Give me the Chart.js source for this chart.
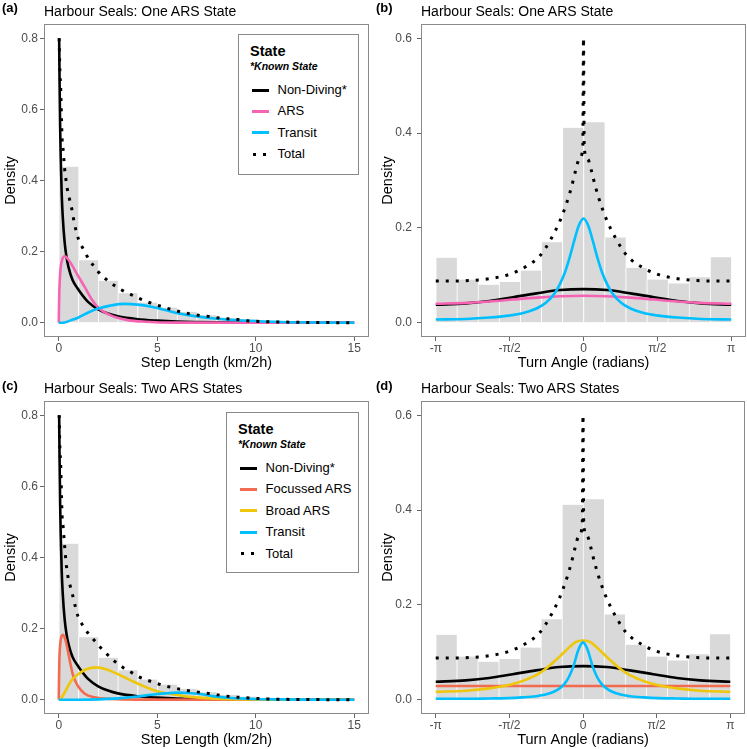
<!DOCTYPE html>
<html>
<head>
<meta charset="utf-8">
<title>Harbour Seals: state densities</title>
<script src="https://cdn.jsdelivr.net/npm/chart.js@4.4.1/dist/chart.umd.min.js"></script>
<style>
  body { margin: 0; background: #fff; font-family: "Liberation Sans", Arial, sans-serif; }
  #wrap { position: relative; width: 747px; height: 749px; overflow: hidden; }
  canvas { position: absolute; }
  .tag { position: absolute; font-weight: bold; font-size: 13px; line-height: 14px; }
  .ttl { position: absolute; font-size: 14px; line-height: 16px; white-space: nowrap; }
  .legend { position: absolute; border: 1px solid #8a8a8a; background: #fff; box-sizing: border-box; }
  .legend div { position: absolute; white-space: nowrap; }
  .lg-title { font-weight: bold; font-size: 14.5px; line-height: 16px; }
  .lg-sub { font-weight: bold; font-style: italic; font-size: 10.5px; line-height: 12px; }
  .lg-text { font-size: 13px; line-height: 16px; }
</style>
</head>
<body>
<div id="wrap"></div>
<script>
// ---- histogram data ----
const stepBins = [0.5, 1.5, 2.5, 3.5, 4.5, 5.5, 6.5, 7.5, 8.5, 9.5, 10.5, 11.5, 12.5, 13.5, 14.5];
const stepHist = [0.439, 0.176, 0.118, 0.083, 0.057, 0.043, 0.031, 0.021, 0.014, 0.009, 0.006, 0.004, 0.003, 0.002, 0.001];
const angleBins = [-2.9172, -2.4684, -2.0196, -1.5708, -1.1220, -0.6732, -0.2244, 0.2244, 0.6732, 1.1220, 1.5708, 2.0196, 2.4684, 2.9172];
const angleHist = [0.137, 0.091, 0.080, 0.086, 0.110, 0.170, 0.411, 0.423, 0.180, 0.116, 0.091, 0.083, 0.096, 0.138];

// ---- tick labels ----
const stepTicks = [0, 5, 10, 15];
const angleTicks = [-Math.PI, -Math.PI / 2, 0, Math.PI / 2, Math.PI];
const angleTickLabels = ['-π', '-π/2', '0', 'π/2', 'π'];
const stepDensityTicks = [0, 0.2, 0.4, 0.6, 0.8];
const angleDensityTicks = [0, 0.2, 0.4, 0.6];

// ---- step length curves [x, density] ----
const stepNonDiving = [[0.02,0.8],[0.04,0.68],[0.07,0.55],[0.1,0.46],[0.15,0.36],[0.2,0.3],[0.3,0.225],[0.4,0.182],[0.5,0.155],[0.7,0.12],[1,0.093],[1.5,0.058],[2,0.038],[2.5,0.026],[3,0.018],[4,0.01],[5,0.006],[6,0.0035],[8,0.0013],[10,0.0005],[15,0]];
const stepARS1 = [[0,0],[0.01,0.04],[0.03,0.09],[0.08,0.146],[0.17,0.177],[0.3,0.187],[0.45,0.18],[0.64,0.165],[0.98,0.132],[1.32,0.1],[1.66,0.067],[2,0.043],[2.67,0.02],[3.5,0.0075],[4.4,0.003],[6,0.0005],[15,0]];
const stepTransit1 = [[0,0],[0.3,0.001],[0.64,0.0075],[1,0.015],[1.5,0.029],[2,0.04],[2.67,0.049],[3.35,0.053],[4,0.051],[4.7,0.045],[5.4,0.036],[6.1,0.026],[7,0.018],[7.9,0.012],[9.6,0.0056],[11.3,0.002],[13,0.0006],[15,0]];
const stepTotal1 = [[0.02,0.8],[0.05,0.72],[0.1,0.655],[0.14,0.572],[0.17,0.515],[0.22,0.487],[0.3,0.431],[0.37,0.4],[0.44,0.374],[0.56,0.344],[0.68,0.315],[0.76,0.289],[0.86,0.263],[1.01,0.234],[1.22,0.21],[1.45,0.186],[1.74,0.162],[2.04,0.141],[2.41,0.122],[2.79,0.106],[3.17,0.093],[3.6,0.081],[4.02,0.07],[4.44,0.06],[4.87,0.052],[5.37,0.043],[5.8,0.036],[6.22,0.03],[6.65,0.025],[7.1,0.021],[7.6,0.018],[8.05,0.014],[8.56,0.011],[9.06,0.009],[9.56,0.0058],[10.5,0.003],[11.5,0.0019],[13,0.0008],[15,0]];
const stepFocussed = [[0,0],[0.01,0.05],[0.03,0.11],[0.08,0.16],[0.15,0.18],[0.22,0.183],[0.3,0.175],[0.39,0.157],[0.56,0.11],[0.73,0.068],[0.98,0.038],[1.32,0.017],[1.82,0.007],[2.67,0.002],[4,0.0003],[15,0]];
const stepBroad = [[0,0],[0.1,0.002],[0.3,0.021],[0.64,0.054],[0.98,0.072],[1.4,0.086],[1.91,0.091],[2.41,0.086],[3,0.072],[3.68,0.054],[4.36,0.037],[5.03,0.023],[5.71,0.016],[6.4,0.01],[7.1,0.006],[8,0.003],[10,0.0008],[15,0]];
const stepTransit2 = [[0,0],[1,0.0002],[2,0.0012],[3,0.004],[4,0.009],[4.7,0.014],[5.4,0.018],[6,0.02],[6.6,0.019],[7.2,0.016],[7.9,0.0095],[8.6,0.0055],[9.6,0.003],[11.2,0.001],[13,0.0003],[15,0]];
const stepTotal2 = [[0.02,0.8],[0.05,0.72],[0.1,0.655],[0.14,0.572],[0.17,0.515],[0.22,0.487],[0.3,0.431],[0.39,0.375],[0.47,0.345],[0.59,0.318],[0.73,0.288],[0.85,0.26],[0.98,0.234],[1.23,0.208],[1.49,0.187],[1.79,0.168],[2.13,0.146],[2.47,0.127],[2.84,0.108],[3.26,0.091],[3.65,0.078],[4.05,0.065],[4.5,0.055],[4.92,0.047],[5.34,0.04],[5.7,0.035],[6.22,0.029],[6.74,0.024],[7.2,0.021],[7.7,0.017],[8.17,0.013],[8.63,0.0095],[9.13,0.007],[9.64,0.005],[10.1,0.0035],[10.6,0.0025],[11.1,0.0016],[12.5,0.0007],[15,0]];

// ---- turn angle curves [radians, density] ----
const angleNonDiving = [[-3.1416,0.038],[-2.5,0.041],[-2,0.046],[-1.5,0.054],[-1,0.062],[-0.5,0.069],[0,0.071],[0.5,0.069],[1,0.062],[1.5,0.054],[2,0.046],[2.5,0.041],[3.1416,0.038]];
const angleARS1 = [[-3.1416,0.04],[-2.5,0.042],[-2,0.045],[-1.5,0.049],[-1,0.053],[-0.5,0.056],[0,0.057],[0.5,0.056],[1,0.053],[1.5,0.049],[2,0.045],[2.5,0.042],[3.1416,0.04]];
const angleTransit1 = [[-3.1416,0.007],[-2.5,0.008],[-2,0.011],[-1.6,0.015],[-1.3,0.02],[-1,0.03],[-0.8,0.042],[-0.6,0.064],[-0.5,0.082],[-0.4,0.105],[-0.3,0.136],[-0.2,0.172],[-0.1,0.205],[0,0.22],[0.1,0.205],[0.2,0.172],[0.3,0.136],[0.4,0.105],[0.5,0.082],[0.6,0.064],[0.8,0.042],[1,0.03],[1.3,0.02],[1.6,0.015],[2,0.011],[2.5,0.008],[3.1416,0.007]];
const angleFocussed = [[-3.1416,0.029],[3.1416,0.029]];
const angleBroad = [[-3.1416,0.017],[-2.5,0.019],[-2,0.024],[-1.5,0.033],[-1,0.052],[-0.8,0.065],[-0.5,0.091],[-0.3,0.11],[-0.15,0.122],[0,0.125],[0.15,0.122],[0.3,0.11],[0.5,0.091],[0.8,0.065],[1,0.052],[1.5,0.033],[2,0.024],[2.5,0.019],[3.1416,0.017]];
const angleTransit2 = [[-3.1416,0.002],[-2.5,0.002],[-2,0.0027],[-1.6,0.0035],[-1.3,0.005],[-1,0.0075],[-0.8,0.011],[-0.6,0.018],[-0.5,0.024],[-0.4,0.033],[-0.3,0.048],[-0.2,0.072],[-0.1,0.105],[0,0.121],[0.1,0.105],[0.2,0.072],[0.3,0.048],[0.4,0.033],[0.5,0.024],[0.6,0.018],[0.8,0.011],[1,0.0075],[1.3,0.005],[1.6,0.0035],[2,0.0027],[2.5,0.002],[3.1416,0.002]];
const angleTotal = [[-3.1416,0.088],[-2.8,0.088],[-2.43,0.089],[-2,0.093],[-1.58,0.102],[-1.23,0.118],[-0.92,0.142],[-0.69,0.177],[-0.5,0.215],[-0.35,0.255],[-0.24,0.292],[-0.17,0.32],[-0.09,0.345],[-0.015,0.37],[0,0.6],[0.015,0.37],[0.09,0.345],[0.17,0.32],[0.24,0.292],[0.35,0.255],[0.5,0.215],[0.69,0.177],[0.92,0.142],[1.23,0.118],[1.58,0.102],[2,0.093],[2.43,0.089],[2.8,0.088],[3.1416,0.088]];

const C = { nondiving: '#000000', ars: '#F763B3', transit: '#00BFFF', focussed: '#F26B50', broad: '#EEC60A', bars: '#D9D9D9' };

const panels = [
  { tag: '(a)', title: 'Harbour Seals: One ARS State', left: 0, top: 0, w: 374, h: 374,
    area: { l: 44, t: 24, r: 369, b: 337 }, kind: 'step', ytPad: 2, ytickPad: 2, xtPad: 2.6,
    series: [['Non-Diving*', stepNonDiving, C.nondiving], ['ARS', stepARS1, C.ars], ['Transit', stepTransit1, C.transit]],
    total: stepTotal1, legend: { left: 238, top: 34, w: 121, h: 141 } },
  { tag: '(b)', title: 'Harbour Seals: One ARS State', left: 374, top: 0, w: 373, h: 374,
    area: { l: 47, t: 24, r: 372, b: 337 }, kind: 'angle', ytPad: 5, ytickPad: 5, xtPad: 2.6,
    series: [['Non-Diving*', angleNonDiving, C.nondiving], ['ARS', angleARS1, C.ars], ['Transit', angleTransit1, C.transit]],
    total: angleTotal },
  { tag: '(c)', title: 'Harbour Seals: Two ARS States', left: 0, top: 374, w: 374, h: 375,
    area: { l: 44, t: 27, r: 369, b: 340 }, kind: 'step', ytPad: 2, ytickPad: 2, xtPad: 0.6,
    series: [['Non-Diving*', stepNonDiving, C.nondiving], ['Focussed ARS', stepFocussed, C.focussed], ['Broad ARS', stepBroad, C.broad], ['Transit', stepTransit2, C.transit]],
    total: stepTotal2, legend: { left: 226, top: 412, w: 133, h: 161 } },
  { tag: '(d)', title: 'Harbour Seals: Two ARS States', left: 374, top: 374, w: 373, h: 375,
    area: { l: 47, t: 27, r: 371, b: 340 }, kind: 'angle', ytPad: 5, ytickPad: 5, xtPad: 0.6,
    series: [['Non-Diving*', angleNonDiving, C.nondiving], ['Focussed ARS', angleFocussed, C.focussed], ['Broad ARS', angleBroad, C.broad], ['Transit', angleTransit2, C.transit]],
    total: angleTotal }
];

const wrap = document.getElementById('wrap');
const FONT = '"Liberation Sans", Arial, sans-serif';

// grey panel border, drawn over the data like ggplot's panel.border
const frame = {
  id: 'frame',
  afterDatasetsDraw(chart) {
    const { ctx, chartArea: a } = chart;
    ctx.save();
    ctx.strokeStyle = '#8a8a8a';
    ctx.lineWidth = 1;
    ctx.strokeRect(Math.round(a.left) + 0.5, Math.round(a.top) + 0.5, Math.round(a.right - a.left) - 1, Math.round(a.bottom - a.top) - 1);
    ctx.restore();
  }
};

function addText(cls, text, left, top) {
  const d = document.createElement('div');
  d.className = cls;
  d.textContent = text;
  d.style.left = left + 'px';
  d.style.top = top + 'px';
  wrap.appendChild(d);
}

function addLegend(p) {
  const box = document.createElement('div');
  box.className = 'legend';
  Object.assign(box.style, { left: p.legend.left + 'px', top: p.legend.top + 'px', width: p.legend.w + 'px', height: p.legend.h + 'px' });
  const put = (cls, text, x, y) => {
    const d = document.createElement('div');
    d.className = cls; d.textContent = text;
    d.style.left = x + 'px'; d.style.top = y + 'px';
    box.appendChild(d);
  };
  put('lg-title', 'State', 11, 8);
  put('lg-sub', '*Known State', 11, 25);
  const entries = p.series.map(s => [s[0], s[2]]).concat([['Total', null]]);
  entries.forEach((e, i) => {
    const cy = 55 + i * 21.4;
    if (e[1]) {
      const ln = document.createElement('div');
      Object.assign(ln.style, { left: '13px', top: (cy - 1.5) + 'px', width: '17px', height: '3px', background: e[1] });
      box.appendChild(ln);
    } else {
      [14, 24].forEach(x => {
        const dot = document.createElement('div');
        Object.assign(dot.style, { left: x + 'px', top: (cy - 1.5) + 'px', width: '3px', height: '3px', background: '#000' });
        box.appendChild(dot);
      });
    }
    put('lg-text', e[0], 38.5, cy - 8);
  });
  wrap.appendChild(box);
}

function makePanel(p) {
  const cv = document.createElement('canvas');
  cv.width = p.w; cv.height = p.h;
  Object.assign(cv.style, { left: p.left + 'px', top: p.top + 'px', width: p.w + 'px', height: p.h + 'px' });
  wrap.appendChild(cv);

  const isStep = p.kind === 'step';
  const bins = isStep ? stepBins : angleBins;
  const hist = isStep ? stepHist : angleHist;
  const xTicks = isStep ? stepTicks : angleTicks;
  const yTicks = isStep ? stepDensityTicks : angleDensityTicks;

  const datasets = [{
    type: 'bar', label: 'hist', order: 10,
    data: bins.map((b, i) => ({ x: b, y: hist[i] })),
    backgroundColor: C.bars, borderColor: '#ffffff',
    borderWidth: { left: 1, right: 0, top: 0, bottom: 0 }, borderSkipped: false,
    barPercentage: 1, categoryPercentage: 1
  }];
  p.series.forEach((s, i) => datasets.push({
    type: 'line', label: s[0], order: 8 - i,
    data: s[1].map(([x, y]) => ({ x, y })),
    borderColor: s[2], borderWidth: 2.6, pointRadius: 0, cubicInterpolationMode: 'monotone', fill: false
  }));
  datasets.push({
    type: 'line', label: 'Total', order: 1,
    data: p.total.map(([x, y]) => ({ x, y })),
    borderColor: '#000', borderWidth: 3, borderDash: [3, 7], pointRadius: 0, cubicInterpolationMode: 'monotone', fill: false
  });

  new Chart(cv, {
    type: 'bar',
    data: { datasets },
    options: {
      responsive: false, animation: false, devicePixelRatio: 1,
      layout: { padding: { left: 0, top: p.area.t, right: p.w - p.area.r, bottom: 0 } },
      plugins: { legend: { display: false }, tooltip: { enabled: false } },
      scales: {
        x: {
          type: 'linear', offset: false,
          min: isStep ? -0.75 : -3.4558, max: isStep ? 15.75 : 3.4558,
          afterBuildTicks: s => { s.ticks = xTicks.map(v => ({ value: v })); },
          afterFit: s => { s.height = p.h - p.area.b; },
          ticks: {
            autoSkip: false, maxRotation: 0, padding: 0, color: '#4d4d4d', font: { family: FONT, size: 12 },
            callback: v => isStep ? String(v) : angleTickLabels[angleTicks.findIndex(t => Math.abs(t - v) < 1e-6)]
          },
          grid: { drawOnChartArea: false, offset: false, tickLength: 4, color: '#666' },
          border: { display: false },
          title: { display: true, text: isStep ? 'Step Length (km/2h)' : 'Turn Angle (radians)', color: '#000',
                   font: { family: FONT, size: 14.5 }, padding: { top: 0, bottom: p.xtPad } }
        },
        y: {
          min: isStep ? -0.04 : -0.03, max: isStep ? 0.84 : 0.63,
          afterBuildTicks: s => { s.ticks = yTicks.map(v => ({ value: v })); },
          afterFit: s => { s.width = p.area.l; },
          ticks: { padding: p.ytickPad, color: '#4d4d4d', font: { family: FONT, size: 12 }, callback: v => v.toFixed(1) },
          grid: { drawOnChartArea: false, tickLength: 4, color: '#666' },
          border: { display: false },
          title: { display: true, text: 'Density', color: '#000', font: { family: FONT, size: 14.5 }, padding: { top: p.ytPad, bottom: 0 } }
        }
      }
    },
    plugins: [frame]
  });

  addText('tag', p.tag, p.left + 2, p.top + (p.top ? 5 : 1));
  addText('ttl', p.title, p.left + p.area.l, p.top + p.area.t - 21);
  if (p.legend) addLegend(p);
}

panels.forEach(makePanel);
</script>
</body>
</html>
